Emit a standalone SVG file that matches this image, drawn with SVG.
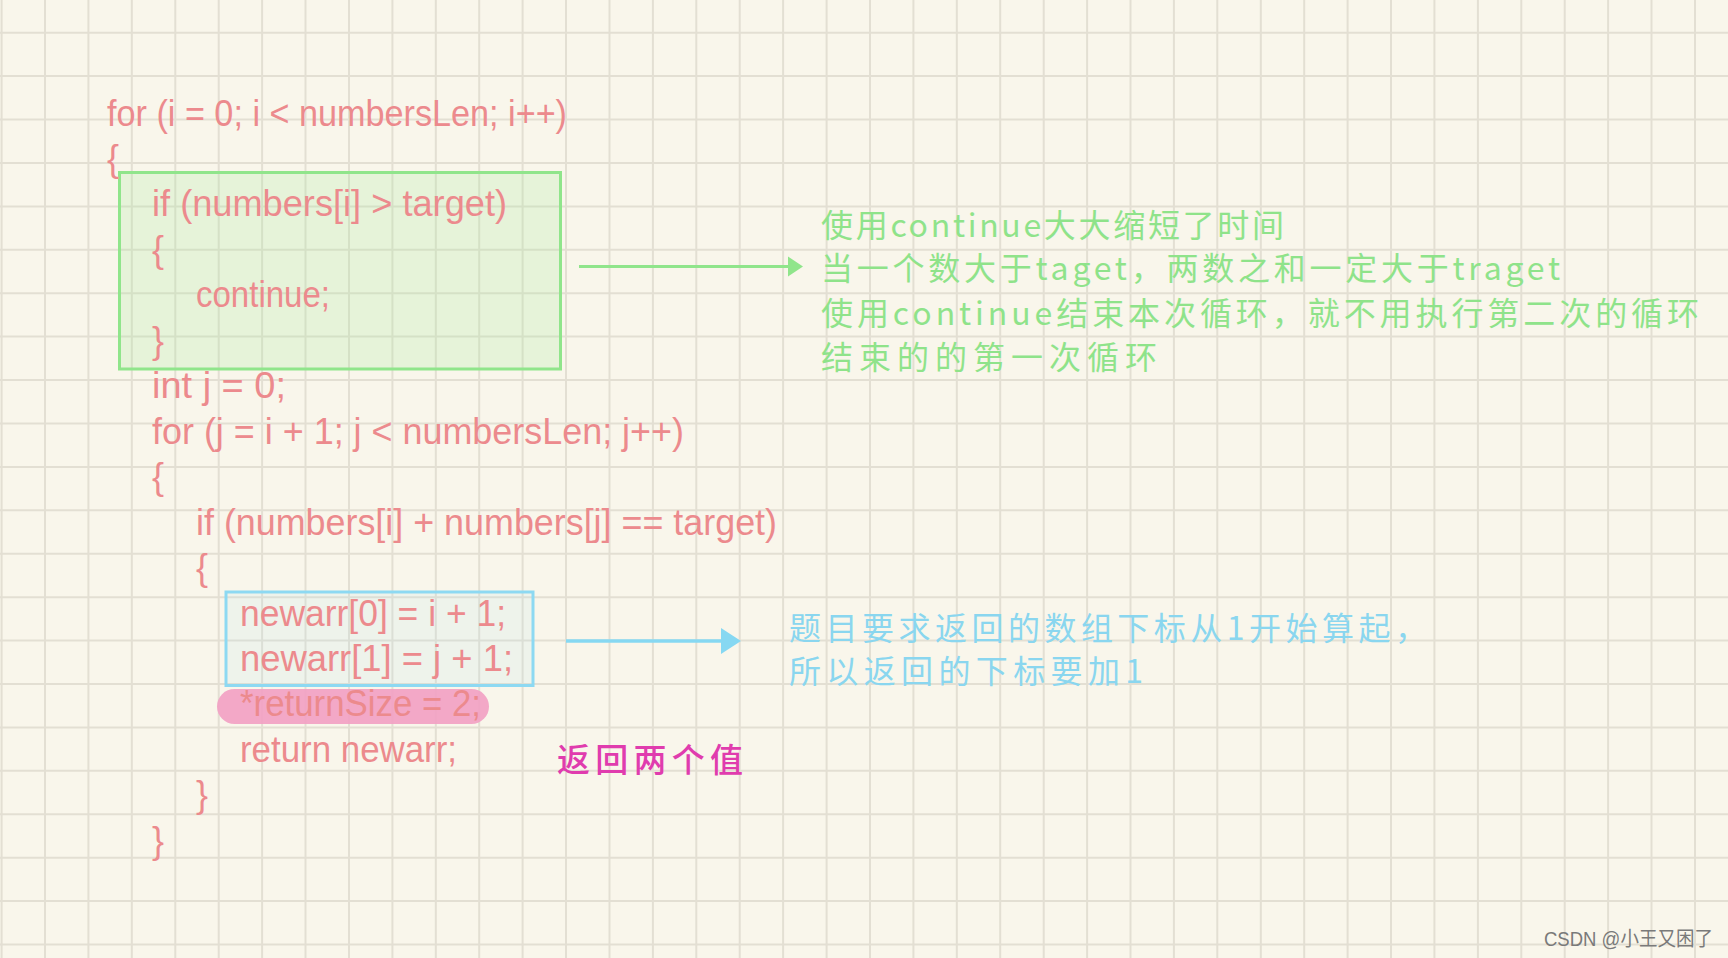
<svg xmlns="http://www.w3.org/2000/svg" width="1728" height="958" viewBox="0 0 1728 958">
<defs>
<style>
.code{font-family:"Liberation Sans",Arial,sans-serif;font-size:36px;fill:#ec8a8d;}
.green{font-family:"Noto Sans CJK SC",sans-serif;font-size:32px;fill:#8fe38a;}
.blue{font-family:"Noto Sans CJK SC",sans-serif;font-size:32px;fill:#8ad6ef;}
.mag{font-family:"Noto Sans CJK SC",sans-serif;font-size:33px;fill:#e03cae;font-weight:500;}
.wm{font-family:"Liberation Sans","Noto Sans CJK SC",sans-serif;font-size:20px;fill:#7a7a7a;}
.grid{stroke:#e3dfd3;stroke-width:2;fill:none;}
</style>
</defs>
<rect x="0" y="0" width="1728" height="958" fill="#f9f6eb"/>
<path class="grid" d="M1.6 0V958M45 0V958M88.4 0V958M131.8 0V958M175.3 0V958M218.7 0V958M262.1 0V958M305.5 0V958M349 0V958M392.4 0V958M435.8 0V958M479.2 0V958M522.6 0V958M566 0V958M609.5 0V958M652.9 0V958M696.3 0V958M739.7 0V958M783.1 0V958M826.6 0V958M870 0V958M913.4 0V958M956.8 0V958M1000.2 0V958M1043.7 0V958M1087.1 0V958M1130.5 0V958M1173.9 0V958M1217.3 0V958M1260.8 0V958M1304.2 0V958M1347.6 0V958M1391 0V958M1434.4 0V958M1477.9 0V958M1521.3 0V958M1564.7 0V958M1608.1 0V958M1651.5 0V958M1695 0V958M0 32.7H1728M0 76.1H1728M0 119.5H1728M0 163H1728M0 206.4H1728M0 249.8H1728M0 293.2H1728M0 336.6H1728M0 380.1H1728M0 423.5H1728M0 466.9H1728M0 510.3H1728M0 553.7H1728M0 597.2H1728M0 640.6H1728M0 684H1728M0 727.4H1728M0 770.8H1728M0 814.3H1728M0 857.7H1728M0 901.1H1728M0 944.5H1728"/>

<g id="continue-box">
<rect x="119.5" y="172.5" width="441" height="196.5" fill="#a6e89a" fill-opacity="0.22" stroke="#90e58b" stroke-width="3"/>
</g>
<g id="newarr-box">
<rect x="226" y="592" width="307" height="93.5" fill="#a8dff0" fill-opacity="0.13" stroke="#8dd9f2" stroke-width="3"/>
</g>
<g id="returnsize-highlight">
<rect x="217" y="689" width="272" height="35" rx="17.5" ry="17.5" fill="#f2a0c3" fill-opacity="0.9"/>
</g>

<g id="code">
<text class="code" x="107" y="125.5" textLength="460" lengthAdjust="spacingAndGlyphs">for (i = 0; i &lt; numbersLen; i++)</text>
<text class="code" x="107" y="171">{</text>
<text class="code" x="152" y="216.4" textLength="355" lengthAdjust="spacingAndGlyphs">if (numbers[i] &gt; target)</text>
<text class="code" x="152" y="261.9">{</text>
<text class="code" x="196" y="307.3" textLength="134" lengthAdjust="spacingAndGlyphs">continue;</text>
<text class="code" x="152" y="352.8">}</text>
<text class="code" x="152" y="398.2" textLength="134" lengthAdjust="spacingAndGlyphs">int j = 0;</text>
<text class="code" x="152" y="443.7" textLength="532" lengthAdjust="spacingAndGlyphs">for (j = i + 1; j &lt; numbersLen; j++)</text>
<text class="code" x="152" y="489.1">{</text>
<text class="code" x="196" y="534.6" textLength="581" lengthAdjust="spacingAndGlyphs">if (numbers[i] + numbers[j] == target)</text>
<text class="code" x="196" y="580">{</text>
<text class="code" x="240" y="625.5" textLength="266" lengthAdjust="spacingAndGlyphs">newarr[0] = i + 1;</text>
<text class="code" x="240" y="670.9" textLength="273" lengthAdjust="spacingAndGlyphs">newarr[1] = j + 1;</text>
<text class="code" x="240" y="716.4" textLength="241" lengthAdjust="spacingAndGlyphs">*returnSize = 2;</text>
<text class="code" x="240" y="761.8" textLength="217" lengthAdjust="spacingAndGlyphs">return newarr;</text>
<text class="code" x="196" y="807.3">}</text>
<text class="code" x="152" y="852.7">}</text>
</g>

<g id="connectors">
<line x1="579" y1="266.5" x2="790" y2="266.5" stroke="#90e58b" stroke-width="3"/>
<polygon points="788,256.5 803,266.5 788,276.5" fill="#90e58b"/>
<line x1="566" y1="641" x2="724" y2="641" stroke="#86d8f2" stroke-width="3.5"/>
<polygon points="721,628 741,641 721,654" fill="#86d8f2"/>
</g>

<g id="continue-note">
<text class="green" x="821" y="237" textLength="463" lengthAdjust="spacing">使用continue大大缩短了时间</text>
<text class="green" x="821" y="280" textLength="739" lengthAdjust="spacing">当一个数大于taget，两数之和一定大于traget</text>
<text class="green" x="821" y="325" textLength="878" lengthAdjust="spacing">使用continue结束本次循环，就不用执行第二次的循环</text>
<text class="green" x="821" y="369" textLength="336" lengthAdjust="spacing">结束的的第一次循环</text>
</g>

<g id="index-note">
<text class="blue" x="789" y="640" textLength="638" lengthAdjust="spacing">题目要求返回的数组下标从1开始算起，</text>
<text class="blue" x="789" y="683" textLength="354" lengthAdjust="spacing">所以返回的下标要加1</text>
</g>

<g id="return-note">
<text class="mag" x="557" y="772" textLength="186" lengthAdjust="spacing">返回两个值</text>
</g>

<g id="watermark">
<text class="wm" x="1544" y="946" textLength="169" lengthAdjust="spacingAndGlyphs">CSDN @小王又困了</text>
</g>
</svg>
